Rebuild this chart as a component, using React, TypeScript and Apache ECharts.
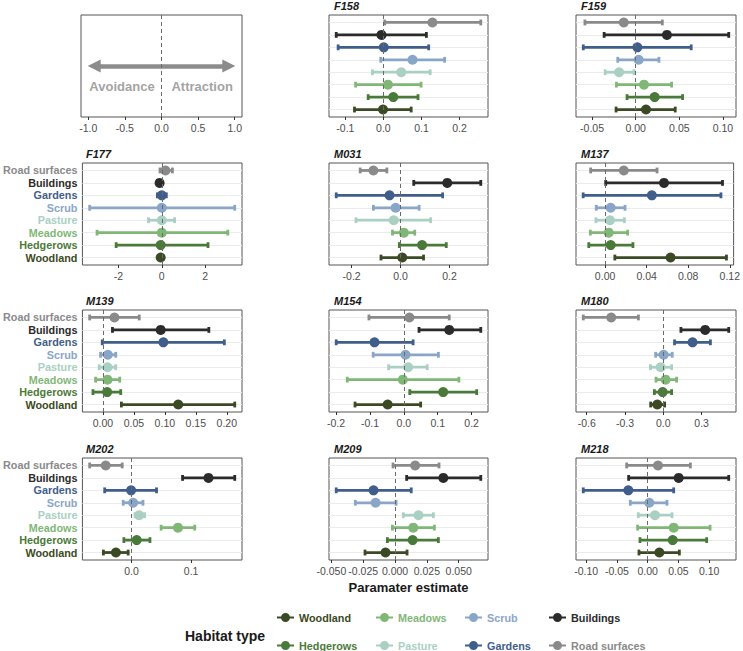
import React, { useEffect, useRef } from 'react';
import * as echarts from 'echarts';

// ---------- data ----------
// order of rows, bottom to top
const HABITATS = ['Woodland', 'Hedgerows', 'Meadows', 'Pasture', 'Scrub', 'Gardens', 'Buildings', 'Road surfaces'];
const HABITAT_COLORS = ['#3b4a24', '#4a7a3a', '#80b777', '#a9d0c2', '#89a6c8', '#3f5e8c', '#2b2b2b', '#8a8a8a'];
const LEGEND_COLUMNS = [['Woodland', 'Hedgerows'], ['Meadows', 'Pasture'], ['Scrub', 'Gardens'], ['Buildings', 'Road surfaces']];
const LEGEND_TITLE = 'Habitat type';
const X_TITLE = 'Paramater estimate';

const GUIDE_TICKS = [-1.0, -0.5, 0.0, 0.5, 1.0];
const GUIDE_LABELS = ['Avoidance', 'Attraction'];
const GUIDE_LABEL_X = [-0.54, 0.555];

const F158_EST = [-0.001, 0.026, 0.012, 0.047, 0.0765, 0.001, -0.005, 0.129];
const F158_LO = [-0.076, -0.04, -0.073, -0.029, -0.007, -0.119, -0.124, 0.0035];
const F158_HI = [0.073, 0.091, 0.099, 0.123, 0.161, 0.119, 0.113, 0.256];
const F158_TICKS = [-0.1, 0, 0.1, 0.2];

const F159_EST = [0.0118, 0.0217, 0.0095, -0.019, 0.0034, 0.0019, 0.0358, -0.0137];
const F159_LO = [-0.0225, -0.0099, -0.0221, -0.035, -0.0206, -0.0601, -0.0362, -0.0582];
const F159_HI = [0.0453, 0.0537, 0.0411, -0.0019, 0.0266, 0.0636, 0.1066, 0.0305];
const F159_TICKS = [-0.05, 0, 0.05, 0.1];

const F177_EST = [-0.05, -0.05, 0, 0, 0, 0, -0.1, 0.17];
const F177_LO = [-0.15, -2.1, -2.98, -0.61, -3.32, -0.2, -0.2, -0.08];
const F177_HI = [0.05, 2.13, 3.04, 0.59, 3.36, 0.21, 0.0, 0.49];
const F177_TICKS = [-2, 0, 2];

const M031_EST = [0.007, 0.088, 0.0136, -0.028, -0.02, -0.045, 0.191, -0.111];
const M031_LO = [-0.08, -0.005, -0.033, -0.182, -0.111, -0.263, 0.054, -0.165];
const M031_HI = [0.094, 0.187, 0.058, 0.123, 0.076, 0.172, 0.328, -0.056];
const M031_TICKS = [-0.2, 0, 0.2];

const M137_EST = [0.063, 0.0054, 0.0035, 0.0047, 0.0054, 0.045, 0.0567, 0.018];
const M137_LO = [0.0094, -0.0157, -0.0142, -0.0088, -0.0085, -0.0211, 0.0006, -0.0139];
const M137_HI = [0.1168, 0.0268, 0.0217, 0.0186, 0.0192, 0.1115, 0.113, 0.05];
const M137_TICKS = [0, 0.04, 0.08, 0.12];

const M139_EST = [0.1216, 0.0069, 0.0075, 0.0075, 0.008, 0.0976, 0.0933, 0.0187];
const M139_LO = [0.0299, -0.016, -0.0117, -0.0059, -0.0037, -0.001, 0.0155, -0.0213];
const M139_HI = [0.2128, 0.0288, 0.0272, 0.0208, 0.0208, 0.196, 0.171, 0.0587];
const M139_TICKS = [0, 0.05, 0.1, 0.15, 0.2];

const M154_EST = [-0.0477, 0.116, -0.003, 0.0127, 0.0049, -0.0866, 0.134, 0.0165];
const M154_LO = [-0.144, 0.0175, -0.167, -0.0448, -0.0905, -0.1995, 0.0448, -0.103];
const M154_HI = [0.0496, 0.215, 0.1625, 0.069, 0.102, 0.0273, 0.227, 0.134];
const M154_TICKS = [-0.2, -0.1, 0, 0.1, 0.2];

const M180_EST = [-0.047, -0.005, 0.018, -0.021, 0.0026, 0.229, 0.328, -0.408];
const M180_LO = [-0.099, -0.07, -0.057, -0.101, -0.06, 0.088, 0.138, -0.627];
const M180_HI = [0.0104, 0.065, 0.104, 0.065, 0.07, 0.369, 0.5125, -0.195];
const M180_TICKS = [-0.6, -0.3, 0, 0.3];

const M202_EST = [-0.026, 0.0088, 0.0779, 0.0127, 0.0028, -0.0006, 0.129, -0.0431];
const M202_LO = [-0.047, -0.0127, 0.0497, 0.006, -0.0138, -0.0448, 0.0856, -0.07];
const M202_HI = [-0.0055, 0.031, 0.106, 0.022, 0.0193, 0.042, 0.173, -0.0155];
const M202_TICKS = [0, 0.1];

const M209_EST = [-0.0075, 0.0138, 0.0143, 0.0184, -0.0153, -0.0169, 0.0379, 0.0158];
const M209_LO = [-0.0236, -0.006, -0.0021, 0.0065, -0.0312, -0.0462, 0.0091, -0.0016];
const M209_HI = [0.0094, 0.034, 0.0309, 0.0301, 0.0008, 0.0127, 0.0673, 0.0345];
const M209_TICKS = [-0.05, -0.025, 0, 0.025, 0.05];

const M218_EST = [0.019, 0.0407, 0.0423, 0.0119, 0.0027, -0.0314, 0.0504, 0.0168];
const M218_LO = [-0.0141, -0.0125, -0.0163, -0.0152, -0.0282, -0.1046, -0.0309, -0.0341];
const M218_HI = [0.0515, 0.0959, 0.1014, 0.0396, 0.0314, 0.0423, 0.1317, 0.0694];
const M218_TICKS = [-0.1, -0.05, 0, 0.05, 0.1];

const PANELS = [
  { name: 'F158', est: F158_EST, lo: F158_LO, hi: F158_HI, ticks: F158_TICKS, dec: 1 },
  { name: 'F159', est: F159_EST, lo: F159_LO, hi: F159_HI, ticks: F159_TICKS, dec: 2 },
  { name: 'F177', est: F177_EST, lo: F177_LO, hi: F177_HI, ticks: F177_TICKS, dec: 0 },
  { name: 'M031', est: M031_EST, lo: M031_LO, hi: M031_HI, ticks: M031_TICKS, dec: 1 },
  { name: 'M137', est: M137_EST, lo: M137_LO, hi: M137_HI, ticks: M137_TICKS, dec: 2 },
  { name: 'M139', est: M139_EST, lo: M139_LO, hi: M139_HI, ticks: M139_TICKS, dec: 2 },
  { name: 'M154', est: M154_EST, lo: M154_LO, hi: M154_HI, ticks: M154_TICKS, dec: 1 },
  { name: 'M180', est: M180_EST, lo: M180_LO, hi: M180_HI, ticks: M180_TICKS, dec: 1 },
  { name: 'M202', est: M202_EST, lo: M202_LO, hi: M202_HI, ticks: M202_TICKS, dec: 1 },
  { name: 'M209', est: M209_EST, lo: M209_LO, hi: M209_HI, ticks: M209_TICKS, dec: 3 },
  { name: 'M218', est: M218_EST, lo: M218_LO, hi: M218_HI, ticks: M218_TICKS, dec: 2 },
];

// ---------- layout ----------
const COL_LEFT = [81, 329, 576];
const COL_WIDTH = [161, 159, 160];
const ROW_TOP = [15, 163, 310, 458];
const PANEL_H = 102;
const FONT = '"Liberation Sans", Arial, Helvetica, sans-serif';
const ROW_VALUES = HABITATS.map((_, i) => i + 1);

function errorBarRender(params: any, api: any) {
  const y = api.value(2);
  const lo = api.coord([api.value(0), y]);
  const hi = api.coord([api.value(1), y]);
  const mid = api.coord([api.value(3), y]);
  const color = api.visual('color');
  const lw = 2.8;
  const cap = 2.9;
  return {
    type: 'group',
    children: [
      { type: 'line', shape: { x1: lo[0], y1: lo[1], x2: hi[0], y2: hi[1] }, style: { stroke: color, lineWidth: lw } },
      { type: 'line', shape: { x1: lo[0], y1: lo[1] - cap, x2: lo[0], y2: lo[1] + cap }, style: { stroke: color, lineWidth: lw } },
      { type: 'line', shape: { x1: hi[0], y1: hi[1] - cap, x2: hi[0], y2: hi[1] + cap }, style: { stroke: color, lineWidth: lw } },
      { type: 'circle', shape: { cx: mid[0], cy: mid[1], r: 5 }, style: { fill: color } },
    ],
  };
}

function buildOption() {
  const grids: any[] = [];
  const xAxes: any[] = [];
  const yAxes: any[] = [];
  const series: any[] = [];
  const graphics: any[] = [];

  const gridBase = { show: true, borderColor: '#555555', borderWidth: 1, backgroundColor: '#ffffff', containLabel: false };
  const tickStyle = { show: true, length: 3, lineStyle: { color: '#333333', width: 1 } };
  const xLabelBase = { color: '#4d4d4d', fontSize: 10.5, fontFamily: FONT, margin: 5 };

  const zeroLine = (g: number) => ({
    type: 'line', xAxisIndex: g, yAxisIndex: g, data: [], silent: true,
    markLine: {
      silent: true, symbol: 'none', z: 10, animation: false,
      label: { show: false },
      lineStyle: { color: '#6b6b6b', width: 1, type: [4, 3] },
      emphasis: { disabled: true },
      data: [{ xAxis: 0 }],
    },
  });

  // guide panel (slot 0)
  grids.push({ ...gridBase, left: COL_LEFT[0], top: ROW_TOP[0], width: COL_WIDTH[0], height: PANEL_H });
  xAxes.push({
    type: 'value', gridIndex: 0, min: -1.1, max: 1.1,
    axisLine: { show: false }, splitLine: { show: false },
    axisTick: { ...tickStyle, customValues: GUIDE_TICKS },
    axisLabel: { ...xLabelBase, customValues: GUIDE_TICKS, formatter: (v: any) => Number(v).toFixed(1) },
  });
  yAxes.push({
    type: 'value', gridIndex: 0, min: 0, max: 1,
    axisLine: { show: false }, splitLine: { show: false },
    axisTick: { ...tickStyle, customValues: [0.5] },
    axisLabel: { show: false },
  });
  series.push(zeroLine(0));
  series.push({
    type: 'line', xAxisIndex: 0, yAxisIndex: 0, data: [], silent: true,
    markLine: {
      silent: true, symbol: ['triangle', 'triangle'], symbolSize: [13, 13], z: 4, animation: false,
      label: { show: false }, emphasis: { disabled: true },
      lineStyle: { color: '#8c8c8c', width: 4.5, type: 'solid' },
      itemStyle: { color: '#8c8c8c' },
      data: [[{ coord: [-0.92, 0.5] }, { coord: [0.92, 0.5] }]],
    },
  });
  series.push({
    type: 'scatter', xAxisIndex: 0, yAxisIndex: 0, symbolSize: 0, silent: true, z: 5,
    data: GUIDE_LABELS.map((t, i) => ({ value: [GUIDE_LABEL_X[i], 0.3], name: t })),
    label: { show: true, position: 'inside', formatter: (p: any) => p.name, color: '#8a8a8a', fontSize: 13, fontWeight: 'bold', fontFamily: FONT },
  });

  PANELS.forEach((p, i) => {
    const slot = i + 1;
    const row = Math.floor(slot / 3);
    const col = slot % 3;
    const g = slot;
    const left = COL_LEFT[col];
    const top = ROW_TOP[row];
    grids.push({ ...gridBase, left, top, width: COL_WIDTH[col], height: PANEL_H });

    const dmin = Math.min(...p.lo);
    const dmax = Math.max(...p.hi);
    const pad = (dmax - dmin) * 0.05;
    xAxes.push({
      type: 'value', gridIndex: g, min: dmin - pad, max: dmax + pad,
      axisLine: { show: false }, splitLine: { show: false },
      axisTick: { ...tickStyle, customValues: p.ticks },
      axisLabel: { ...xLabelBase, customValues: p.ticks, formatter: (v: any) => Number(v).toFixed(p.dec) },
    });
    yAxes.push({
      type: 'value', gridIndex: g, min: 0.4, max: HABITATS.length + 0.6,
      axisLine: { show: false }, splitLine: { show: false },
      axisTick: { ...tickStyle, customValues: ROW_VALUES },
      axisLabel: col === 0 ? {
        show: true, customValues: ROW_VALUES, margin: 5,
        formatter: (v: any) => HABITATS[Math.round(Number(v)) - 1],
        color: (v: any) => HABITAT_COLORS[Math.round(Number(v)) - 1],
        fontWeight: 'bold', fontSize: 10.8, fontFamily: FONT,
      } : { show: false },
    });

    // horizontal gridlines
    series.push({
      type: 'line', xAxisIndex: g, yAxisIndex: g, data: [], silent: true,
      markLine: {
        silent: true, symbol: 'none', z: 1, animation: false,
        label: { show: false }, emphasis: { disabled: true },
        lineStyle: { color: '#ebebeb', width: 1, type: 'solid' },
        data: ROW_VALUES.map((v) => ({ yAxis: v })),
      },
    });

    HABITATS.forEach((h, k) => {
      series.push({
        type: 'custom', name: h, xAxisIndex: g, yAxisIndex: g, z: 3,
        itemStyle: { color: HABITAT_COLORS[k] },
        encode: { x: [0, 1, 3], y: 2 },
        data: [[p.lo[k], p.hi[k], k + 1, p.est[k]]],
        renderItem: errorBarRender,
        silent: true,
      });
    });

    series.push(zeroLine(g));

    graphics.push({
      type: 'text', x: left + 5, y: top - 9.5,
      style: { text: p.name, fill: '#1a1a1a', fontSize: 11, fontWeight: 'bold', fontStyle: 'italic', fontFamily: FONT, align: 'left', verticalAlign: 'middle' },
    });
  });

  graphics.push({
    type: 'text', x: COL_LEFT[1] + COL_WIDTH[1] / 2, y: 587,
    style: { text: X_TITLE, fill: '#1a1a1a', fontSize: 13, fontWeight: 'bold', fontFamily: FONT, align: 'center', verticalAlign: 'middle' },
  });
  graphics.push({
    type: 'text', x: 185, y: 636,
    style: { text: LEGEND_TITLE, fill: '#1a1a1a', fontSize: 14, fontWeight: 'bold', fontFamily: FONT, align: 'left', verticalAlign: 'middle' },
  });

  const legendIcon = 'path://M0,4H17V6H0Z M13,5A4.5,4.5 0 1,1 4,5A4.5,4.5 0 1,1 13,5Z';
  const legendLeft = [277, 376, 465, 549];
  const legends = LEGEND_COLUMNS.map((names, c) => ({
    show: true, orient: 'vertical', left: legendLeft[c], top: 612, padding: 0,
    itemWidth: 17, itemHeight: 10, itemGap: 17, selectedMode: false,
    icon: legendIcon,
    textStyle: { fontSize: 10.8, fontWeight: 'bold', fontFamily: FONT },
    data: names.map((n) => ({ name: n, textStyle: { color: HABITAT_COLORS[HABITATS.indexOf(n)] } })),
  }));

  return {
    animation: false,
    backgroundColor: '#ffffff',
    textStyle: { fontFamily: FONT },
    grid: grids,
    xAxis: xAxes,
    yAxis: yAxes,
    legend: legends,
    graphic: graphics,
    series,
  };
}

export default function App() {
  const ref = useRef<HTMLDivElement>(null);
  useEffect(() => {
    if (!ref.current) return;
    const chart = echarts.init(ref.current, undefined, { renderer: 'svg' });
    chart.setOption(buildOption() as any);
    return () => chart.dispose();
  }, []);
  return (
    <div
      ref={ref}
      style={{ position: 'fixed', left: 0, top: 0, width: 743, height: 651, background: '#ffffff' }}
    />
  );
}
